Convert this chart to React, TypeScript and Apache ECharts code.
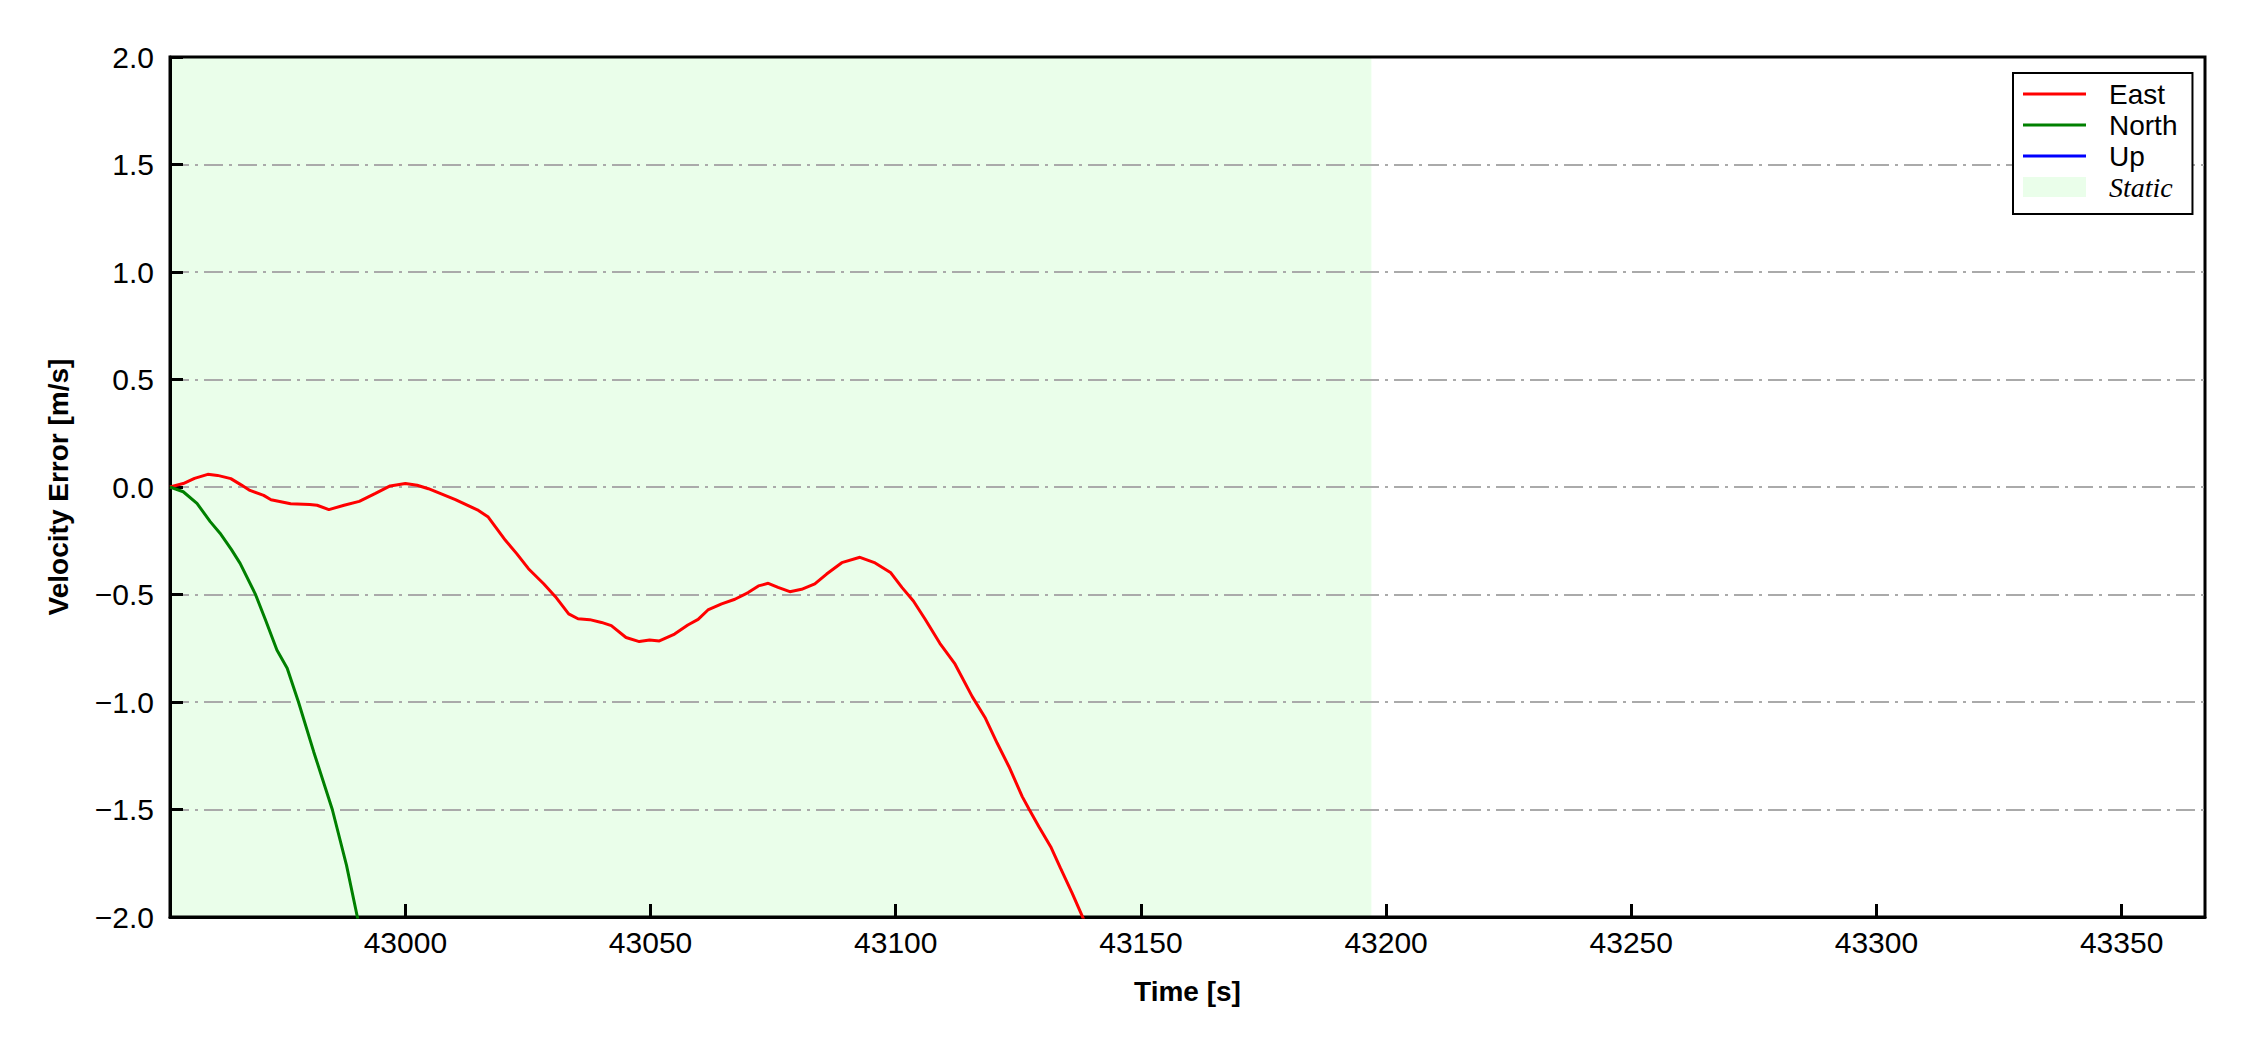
import React, { useEffect, useRef } from "react";
import * as echarts from "echarts";

// ---- data ----
const eastTime = [
  42952.0, 42954.7, 42957.0, 42959.7, 42961.7, 42964.4, 42966.5, 42968.3, 42971.1, 42972.6,
  42976.6, 42980.5, 42982.0, 42984.4, 42987.5, 42990.6, 42993.8, 42996.9, 43000.0, 43002.4,
  43004.7, 43010.2, 43014.9, 43016.9, 43020.4, 43022.7, 43025.1, 43028.2, 43030.6, 43033.3,
  43035.2, 43037.6, 43040.0, 43042.0, 43045.0, 43047.7, 43049.8, 43051.8, 43054.9, 43057.6,
  43059.7, 43061.7, 43064.5, 43067.2, 43069.9, 43072.0, 43074.0, 43076.0, 43078.4, 43080.8,
  43083.5, 43085.9, 43089.0, 43092.7, 43095.8, 43099.0, 43101.3, 43103.6, 43106.0, 43109.0,
  43112.0, 43115.6, 43118.3, 43120.7, 43123.1, 43125.8, 43127.2, 43129.2, 43131.6, 43133.6,
  43136.0, 43138.1, 43140.0,
];
const eastValue = [
  0.0, 0.016, 0.04, 0.059, 0.054, 0.039, 0.01, -0.016, -0.039, -0.059,
  -0.078, -0.081, -0.085, -0.105, -0.085, -0.067, -0.031, 0.005, 0.016, 0.008,
  -0.008, -0.059, -0.109, -0.14, -0.248, -0.31, -0.38, -0.45, -0.51, -0.59,
  -0.613, -0.617, -0.63, -0.645, -0.7, -0.719, -0.712, -0.716, -0.684, -0.642,
  -0.616, -0.572, -0.544, -0.522, -0.491, -0.46, -0.448, -0.467, -0.487, -0.476,
  -0.451, -0.405, -0.352, -0.327, -0.353, -0.399, -0.468, -0.53, -0.615, -0.727,
  -0.82, -0.975, -1.076, -1.192, -1.301, -1.44, -1.499, -1.58, -1.673, -1.773,
  -1.89, -1.999, -2.1,
];
const northTime = [
  42952.0, 42954.7, 42957.5, 42960.2, 42962.2, 42964.5, 42966.3, 42969.4, 42971.5, 42973.8,
  42975.9, 42978.2, 42981.3, 42985.1, 42988.0, 42990.2, 42991.0,
];
const northValue = [
  0.0, -0.022, -0.076, -0.161, -0.215, -0.29, -0.355, -0.498, -0.62, -0.758,
  -0.843, -1.0, -1.231, -1.5, -1.76, -1.999, -2.1,
];
const upTime: number[] = [];
const upValue: number[] = [];

const staticSpan = [42952, 43197];
const xRange = [42952, 43367];
const xTicks = [43000, 43050, 43100, 43150, 43200, 43250, 43300, 43350];
const yRange = [-2, 2];
const yStep = 0.5;

const seriesNames = ["East", "North", "Up", "Static"];
const seriesColors = ["#ff0000", "#008000", "#0000ff", "#eafeea"];

const zip = (t: number[], v: number[]) => t.map((x, i) => [x, v[i]]);

const SANS = "'Liberation Sans', Arial, Helvetica, sans-serif";
const SERIF = "'Liberation Serif', 'Times New Roman', serif";
const LINE_ICON = "path://M0 0L63 0M0 20L63 20M0 8.5H63V11.5H0Z";

export default function App() {
  const ref = useRef<HTMLDivElement>(null);

  useEffect(() => {
    if (!ref.current) return;
    const chart = echarts.init(ref.current, null, { renderer: "svg" });

    const fmt = (v: number) => {
      const r = Math.round(v * 10) / 10;
      if (r === 0) return "0.0";
      return (r < 0 ? "\u2212" : "") + Math.abs(r).toFixed(1);
    };

    chart.setOption({
      animation: false,
      backgroundColor: "#ffffff",
      grid: {
        left: 170,
        top: 57,
        right: 45,
        bottom: 133,
        show: true,
        borderColor: "#000",
        borderWidth: 3,
        backgroundColor: "transparent",
      },
      xAxis: {
        type: "value",
        min: xRange[0],
        max: xRange[1],
        axisLine: { show: true, onZero: false, lineStyle: { color: "#000", width: 3 } },
        axisTick: {
          show: true,
          inside: true,
          length: 13,
          customValues: xTicks,
          lineStyle: { color: "#000", width: 3 },
        },
        axisLabel: {
          customValues: xTicks,
          color: "#000",
          fontSize: 30,
          fontFamily: SANS,
          margin: 10,
          formatter: (v: number) => String(v),
        },
        splitLine: { show: false },
        name: "Time [s]",
        nameLocation: "middle",
        nameGap: 60,
        nameTextStyle: { fontWeight: "bold", fontSize: 28, fontFamily: SANS, color: "#000" },
      },
      yAxis: {
        type: "value",
        min: yRange[0],
        max: yRange[1],
        interval: yStep,
        axisLine: { show: true, onZero: false, lineStyle: { color: "#000", width: 3 } },
        axisTick: { show: true, inside: true, length: 13, lineStyle: { color: "#000", width: 3 } },
        axisLabel: { color: "#000", fontSize: 30, fontFamily: SANS, margin: 16, formatter: fmt },
        splitLine: {
          show: true,
          showMinLine: false,
          showMaxLine: false,
          lineStyle: { color: "#aaaaaa", width: 2, type: [19, 6, 3, 6] },
        },
        name: "Velocity Error [m/s]",
        nameLocation: "middle",
        nameGap: 98,
        nameRotate: 90,
        nameTextStyle: { fontWeight: "bold", fontSize: 28, fontFamily: SANS, color: "#000" },
      },
      legend: {
        orient: "vertical",
        left: 2013,
        top: 73,
        selectedMode: false,
        itemWidth: 63,
        itemHeight: 20,
        itemGap: 3,
        padding: [7, 15, 13, 10],
        borderColor: "#000",
        borderWidth: 2,
        borderRadius: 0,
        backgroundColor: "#fff",
        textStyle: {
          fontSize: 28,
          fontFamily: SANS,
          color: "#000",
          lineHeight: 28,
          padding: [0, 0, 0, 18],
        },
        data: [
          { name: seriesNames[0], icon: LINE_ICON },
          { name: seriesNames[1], icon: LINE_ICON },
          { name: seriesNames[2], icon: LINE_ICON },
          {
            name: seriesNames[3],
            icon: "rect",
            textStyle: { fontFamily: SERIF, fontStyle: "italic", fontSize: 28 },
          },
        ],
      },
      series: [
        {
          name: seriesNames[3],
          type: "line",
          color: seriesColors[3],
          data: [],
          symbol: "none",
          silent: true,
          z: 0,
          markArea: {
            silent: true,
            z: -5,
            itemStyle: { color: seriesColors[3], opacity: 1 },
            data: [[{ xAxis: staticSpan[0] }, { xAxis: staticSpan[1] }]],
          },
        },
        {
          name: seriesNames[0],
          type: "line",
          color: seriesColors[0],
          data: zip(eastTime, eastValue),
          symbol: "none",
          lineStyle: { width: 3, color: seriesColors[0] },
          clip: true,
          z: 3,
        },
        {
          name: seriesNames[1],
          type: "line",
          color: seriesColors[1],
          data: zip(northTime, northValue),
          symbol: "none",
          lineStyle: { width: 3, color: seriesColors[1] },
          clip: true,
          z: 3,
        },
        {
          name: seriesNames[2],
          type: "line",
          color: seriesColors[2],
          data: zip(upTime, upValue),
          symbol: "none",
          lineStyle: { width: 3, color: seriesColors[2] },
          clip: true,
          z: 3,
        },
      ],
    });

    return () => chart.dispose();
  }, []);

  return (
    <div
      ref={ref}
      style={{ position: "fixed", left: 0, top: 0, width: 2250, height: 1050, background: "#fff" }}
    />
  );
}
